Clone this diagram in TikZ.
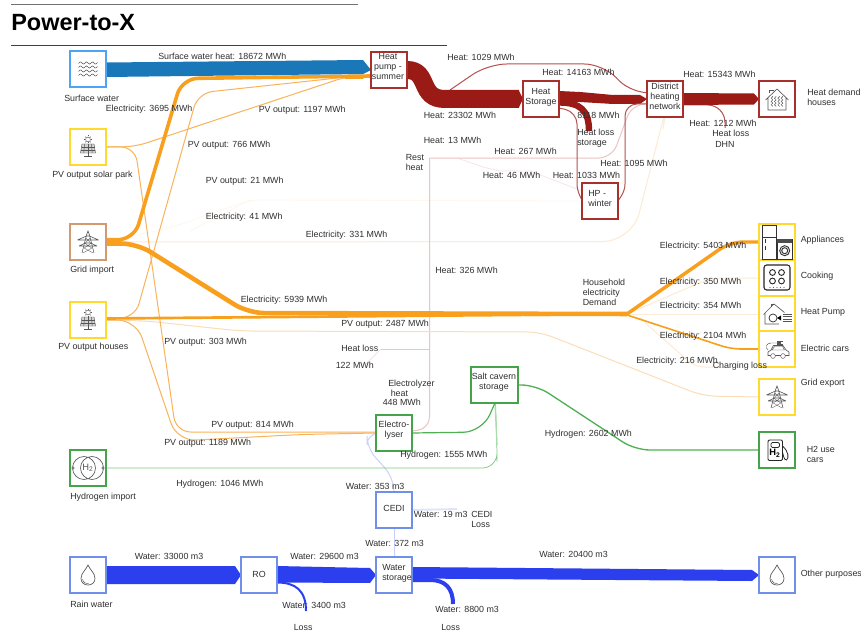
\documentclass[tikz,border=0pt]{standalone}
\usepackage{fontspec}
\setmainfont{Liberation Sans}
\usetikzlibrary{calc}
\definecolor{txt}{HTML}{303030}
\definecolor{wblue}{HTML}{2B3FEE}
\definecolor{sblue}{HTML}{1A78B8}
\definecolor{hred}{HTML}{9A1A16}
\definecolor{mred}{HTML}{B5524F}
\definecolor{pinkf}{HTML}{EBC4C3}
\definecolor{paler}{HTML}{F6E4E3}
\definecolor{orng}{HTML}{F8A01E}
\definecolor{orngb}{HTML}{F9B35A}
\definecolor{orngc}{HTML}{FCDDB6}
\definecolor{orngd}{HTML}{FDEBD5}
\definecolor{orngf}{HTML}{FFF6EC}
\definecolor{gr}{HTML}{4FB153}
\definecolor{grb}{HTML}{7CCB7F}
\definecolor{grc}{HTML}{A9DBAB}
\definecolor{wpale}{HTML}{C9D1F8}
\definecolor{wpaler}{HTML}{E0E4FB}
\definecolor{bxblue}{HTML}{6F8FEA}
\definecolor{bxsky}{HTML}{4DA3F5}
\definecolor{bxyel}{HTML}{FFD92E}
\definecolor{bxtan}{HTML}{D29A6E}
\definecolor{bxred}{HTML}{A8302C}
\definecolor{bxgrn}{HTML}{45A34A}
\definecolor{ic}{HTML}{555555}
\newcommand\ys[1]{#1*-0.75pt}
\tikzset{
 x=0.75pt,y=-0.75pt,
 lab/.style={inner sep=0pt,anchor=west,text=txt,align=left,font=\fontsize{6.65}{7.5}\selectfont},
 clab/.style={inner sep=0pt,anchor=center,text=txt,align=center,font=\fontsize{6.65}{7.5}\selectfont},
 bx/.style={minimum width=27pt,minimum height=27pt,inner sep=0pt,outer sep=0pt},
 iconline/.style={draw=ic,line width=0.35pt},
 thin1/.style={line width=0.75pt},
 thin2/.style={line width=0.55pt},
 wavesicon/.pic={
  \foreach \yy in {-6,-2,2,6}{
   \draw[iconline,line width=.45pt] plot[domain=-9.5:9.5,samples=30,smooth] (\x,{\yy+1*sin(\x*60)});
  }},
 sunicon/.pic={
  \draw[iconline] (0,-7.5) circle (2.4);
  \foreach \a in {0,45,...,315}{\draw[iconline] ($(0,-7.5)+(\a:3)$) -- ($(0,-7.5)+(\a:4)$);}
  \draw[iconline,fill=ic!25] (-6,-3) -- (6,-3) -- (7.5,6) -- (-7.5,6) -- cycle;
  \foreach \k in {-3.5,0,3.5}{\draw[iconline] (\k,-3) -- (\k*1.2,6);}
  \draw[iconline] (-6.5,0) -- (6.5,0) (-7,3) -- (7,3);
  \draw[iconline] (0,6) -- (0,9) (-4,9) -- (4,9);},
 pylonicon/.pic={
  \draw[iconline,line width=.45pt] (-6,11) -- (-1.5,-7) -- (0,-11) -- (1.5,-7) -- (6,11);
  \draw[iconline,line width=.45pt] (-10.5,-2) -- (-1.5,-6) -- (1.5,-6) -- (10.5,-2) (-10.5,-2) -- (10.5,-2);
  \draw[iconline,line width=.45pt] (-9,4) -- (-2.5,1) -- (2.5,1) -- (9,4) (-9,4) -- (9,4);
  \draw[iconline,line width=.25pt] (-3.5,1) -- (3.8,6) -- (-5,11) (3.5,1) -- (-3.8,6) -- (5,11) (-2,-4) -- (2.6,1) (2,-4) -- (-2.6,1);},
 hydroicon/.pic={
  \draw[iconline,line width=.5pt] (-4,0) circle (11.5) (4,0) circle (11.5);
  \draw[iconline,fill=white] (-15,0) circle (1.2) (15,0) circle (1.2);
  \node[inner sep=0pt,text=ic,font=\fontsize{7}{8}\selectfont] (h2txt) at (0,0) {H\textsubscript{2}};},
 dropicon/.pic={
  \draw[iconline,line width=.5pt] (0,-10) .. controls (2,-5) and (7,-2) .. (7,3.5) .. controls (7,7.5) and (4,10) .. (0,10) .. controls (-4,10) and (-7,7.5) .. (-7,3.5) .. controls (-7,-2) and (-2,-5) .. cycle;
  \draw[iconline] (-5.5,4) .. controls (-5,7.5) and (-2,9) .. (1,9);},
 houseicon/.pic={
  \draw[iconline,line width=.5pt] (-11.5,1) -- (0,-10) -- (11.5,1) (-9,-1) -- (-9,11) -- (9,11) -- (9,-1);
  \draw[iconline] (-7.5,-5.5) -- (-7.5,-9) -- (-4,-9) -- (-4,-7.5);
  \foreach \k in {-5,-1.7,1.7,5}{\draw[iconline] plot[domain=-3:7.5,samples=14,smooth] ({\k+.9*sin(\x*110)},\x);}},
 appicon/.pic={
  \draw[draw=black!80,line width=.6pt] (-15,-17) rectangle (-1,17) (-15,-5) -- (-1,-5);
  \draw[draw=black!80,line width=.7pt] (-11.5,-3) -- (-11.5,1) (-11.5,4) -- (-11.5,8);
  \draw[draw=black!80,line width=.6pt] (0,-3) rectangle (15,17);
  \fill[black!70] (0,-3) rectangle (15,1);
  \draw[draw=black!80,line width=.7pt] (7.7,8.7) circle (5) (7.7,8.7) circle (3);},
 cookicon/.pic={
  \draw[draw=black!85,line width=.8pt,rounded corners=2pt] (-13,-13) rectangle (13,12);
  \foreach \a in {-4.5,4.5}{\foreach \b in {-5.5,3}{\draw[draw=black!85,line width=.7pt] (\a,\b) circle (2.9);}}
  \foreach \a in {-7,-3.5,0,3.5,7}{\fill[black!60] (\a,9.5) circle (.6);}},
 hpicon/.pic={
  \draw[iconline,line width=.5pt] (-13.5,0.5) -- (-3,-10) -- (7.5,-1.5) (-12,-1) -- (-12,10) -- (2,10);
  \draw[iconline] (-6,-7.5) -- (-6,-10) -- (-3.5,-10);
  \draw[draw=black!80,line width=.55pt] (-4,4) circle (4);
  \fill[black] (0,4) -- (4,1.5) -- (4,6.5) -- cycle;
  \foreach \k in {0,2.5,5,7.5}{\draw[iconline] (5.5,\k) -- (15,\k);}},
 caricon/.pic={
  \draw[iconline,line width=.5pt] (-9,6.5) -- (-9,3) -- (-6,1) -- (-3.5,-3.5) -- (6,-3.5) -- (9,1) -- (12,3) -- (12,6.5) -- cycle;
  \draw[iconline] (-5,1) -- (-2.5,-2.5) -- (5.5,-2.5) -- (7.5,1) -- cycle;
  \draw[iconline,fill=white] (-4,7) circle (2.4) (6,7) circle (2.4);
  \draw[iconline] (-9,1) .. controls (-12,-1) and (-11,-6) .. (-6,-6) -- (0,-6);
  \fill[ic] (0,-8) rectangle (3.5,-4);
  \draw[iconline] (3.5,-7.5) -- (5.5,-7.5) (3.5,-4.5) -- (5.5,-4.5);},
 pumpicon/.pic={
  \draw[draw=black!85,line width=.7pt,rounded corners=1pt] (-9,-10) rectangle (5.5,10.5);
  \draw[draw=black!85,line width=.6pt,rounded corners=1pt] (-6,-7.5) rectangle (2.5,-2.5);
  \draw[draw=black!85,line width=.6pt] (5.5,-4) .. controls (12,2) and (12,8) .. (9.5,10) .. controls (7,10) and (6.5,6) .. (5.5,2);
  \node[inner sep=0pt,text=black,font=\bfseries\fontsize{7}{8}\selectfont] (h2pump) at (-2,3.5) {H\textsubscript{2}};},
}
\begin{document}
\begin{tikzpicture}
\useasboundingbox (0,0) rectangle (861,635);
\fill[white] (0,0) rectangle (861,635);
\draw[line width=.7pt,draw=black!55] (11,4) -- (358,4);
\draw[line width=.7pt,draw=black!75] (11,45.5) -- (447,45.5);
\node[inner sep=0pt,anchor=west,font=\bfseries\fontsize{17.6}{20}\selectfont] (title) at (11,23) {Power-to-X};

% ---- boxes (placed first, outlined last)
\node[bx] (sw) at (88,69) {};
\node[bx] (solar) at (88,147) {};
\node[bx] (grid) at (88,242) {};
\node[bx] (pvh) at (88,320) {};
\node[bx] (himp) at (88,468) {};
\node[bx] (rain) at (88,575) {};
\node[bx] (hps) at (389,70) {};
\node[bx] (hst) at (541,99) {};
\node[bx] (dhn) at (665,99) {};
\node[bx] (hdh) at (777,99) {};
\node[bx] (hpw) at (600,201) {};
\node[bx] (app) at (777,242) {};
\node[bx] (cook) at (777,278) {};
\node[bx] (hpu) at (777,314) {};
\node[bx] (ecar) at (777,349) {};
\node[bx] (gexp) at (777,397) {};
\node[bx] (h2c) at (777,450) {};
\node[bx] (ely) at (394,433) {};
\node[bx,minimum width=35.25pt] (salt) at (494.5,385) {};
\node[bx] (cedi) at (394,510) {};
\node[bx] (wst) at (394,575) {};
\node[bx] (ro) at (259,575) {};
\node[bx] (oth) at (777,575) {};

% ---- free ends
\coordinate (hub) at (627,314);
\coordinate (restc) at (429.5,158);
\coordinate (hl1) at (725,128);
\coordinate (hl2) at (306,611);
\coordinate (hl3) at (453,604);
\coordinate (hl4) at (589,131);
\coordinate (cedil) at (457,509);
\coordinate (chl) at (727,367);
\coordinate (elyhl) at (381,349);

% ---- faint flows
\draw[orngf,thin2,rounded corners=8pt] ([yshift=\ys{0}]grid.east) -- (173,227) -- (250,200) -- (hpw.west);
\draw[orngf,thin2] (190,231) -- (250,200);
\draw[paler,thin2] (457,158) -- (483,167) -- (500,171) -- (530,171) -- ([yshift=\ys{-10}]hpw.west);
\draw[orngd,thin1,rounded corners=22pt] (grid.east) -- (632,241.5) -- (668,100) -- (dhn.south);
\draw[pinkf,thin1,rounded corners=10pt] (restc) -- (612,158) -- (632,104) -- ([yshift=\ys{5}]dhn.west);
\draw[pinkf,thin1,rounded corners=9pt] ([yshift=\ys{-2}]ely.east) -- (429.5,429) -- (restc);
\draw[pinkf,thin2] (elyhl) -- (429.5,349);
\draw[paler,thin2] (elyhl) -- (365,365);
\draw[orngc,thin1,rounded corners=10pt] ([yshift=\ys{0}]pvh.east) -- (147,321) -- (240,331) -- (540,332) -- (703,396) -- (gexp.west);
% water thin
\draw[wpale,thin1] (cedi.south) -- (wst.north);
\draw[wpale,thin1,rounded corners=9pt] (cedi.north) -- (393,477) -- (367,448) -- (367,433) -- ([yshift=\ys{0}]ely.west);
\draw[wpaler,line width=1.4pt] ([yshift=\ys{0}]cedi.east) -- (cedil);
% household faint
\draw[orngd,thin1,rounded corners=8pt] (hub) -- (711,278) -- (cook.west);
\draw[orngd,thin1] (hub) -- (hpu.west);
\draw[orngd,thin1,rounded corners=7pt] (640,318) -- (695,367) -- (chl);

% ---- orange
\draw[orngb,thin1,rounded corners=9pt] (solar.east) -- (135,146.7) -- (347,76.5) -- ([yshift=\ys{6}]hps.west);
\draw[orngb,thin1,rounded corners=11pt] ([yshift=\ys{-2}]pvh.east) -- (135,318) -- (198,93) -- (347,77) -- ([yshift=\ys{6}]hps.west);
\draw[orngb,thin1,rounded corners=11pt] (solar.east) -- (135,146.7) -- (176,432) -- ([yshift=\ys{-1}]ely.west);
\draw[orngb,thin1,rounded corners=14pt] ([yshift=\ys{0}]pvh.east) -- (136,320) -- (177,441) -- (300,434.5) -- (ely.west);
\draw[orng,line width=2.7pt,rounded corners=12pt] ([yshift=\ys{-2.3}]grid.east) -- (134,239.7) -- (182,78.5) -- ([yshift=\ys{6}]hps.west);
\fill[orng] (345,77.2) -- (367,74.5) -- (363,79) -- (345,79) -- cycle;
\draw[orng,line width=3.4pt,rounded corners=12pt] ([yshift=\ys{1.5}]grid.east) -- (137,243.5) -- (248,313) -- (hub);
\draw[orng,line width=2pt] ([yshift=\ys{-1.5}]pvh.east) -- (hub);
\draw[orng,line width=2.6pt,rounded corners=10pt] (hub) -- (730,242) -- (app.west);
\draw[orng,line width=1.2pt,rounded corners=7pt] ([yshift=\ys{1}]hub) -- (731,349) -- (ecar.west);

% ---- green
\draw[grb,thin2,rounded corners=11pt] (himp.east) -- (497,468) -- (497,447) -- (495.5,403);
\draw[grc,line width=.9pt,rounded corners=4pt] (495,403) -- (497,445);
\draw[gr,line width=.9pt,rounded corners=14pt] (ely.east) -- (482,432) -- (495,403);
\draw[gr,line width=1pt,rounded corners=11pt] (salt.east) -- (536,385) -- (635,450) -- (h2c.west);

% ---- reds
\draw[mred,thin1,rounded corners=14pt] (450,90) -- (488,64) -- (603,64) -- (632,94) -- ([yshift=\ys{-6}]dhn.west);
\fill[hred] ([yshift=\ys{-8}]hst.east) -- (580,92) -- (613,95) -- (640,95) -- (dhn.west) -- (640,104) -- (613,104) -- (580,102) -- ([yshift=\ys{3}]hst.east) -- cycle;
\draw[mred,thin1,rounded corners=9pt] ([yshift=\ys{9}]hst.east) -- (577,112) -- (577,196) -- (hpw.west);
\draw[mred,thin1,rounded corners=9pt] (hpw.east) -- (625,196) -- (625,104) -- ([yshift=\ys{5}]dhn.west);
\draw[hred,line width=4.8pt] ([yshift=\ys{3.5}]hst.east) .. controls (580,102.5) and (589,110) .. (hl4);
\draw[mred,thin1,rounded corners=13pt] ([yshift=\ys{6}]dhn.east) -- (725,105) -- (hl1);
\fill[hred] ([yshift=\ys{-6}]dhn.east) -- (754,93.5) -- (hdh.west) -- (754,104.5) -- ([yshift=\ys{6}]dhn.east) -- cycle;
\draw[hred,line width=13.5pt] (hps.east) .. controls (430,70) and (418,99) .. (445,99) -- (519,99);
\fill[hred] (518.5,90) -- (hst.west) -- (518.5,108) -- cycle;
\fill[sblue] ([yshift=\ys{-6.5}]sw.east) -- (363,60) -- (hps.west) -- (363,74) -- ([yshift=\ys{8}]sw.east) -- cycle;

% ---- water
\fill[wblue] ([yshift=\ys{-9}]rain.east) -- (235,566) -- (ro.west) -- (235,584) -- ([yshift=\ys{9}]rain.east) -- cycle;
\fill[wblue] ([yshift=\ys{-9}]ro.east) -- (370,568) -- (wst.west) -- (370,583) -- ([yshift=\ys{7.5}]ro.east) -- cycle;
\draw[wblue,line width=1.5pt] ([yshift=\ys{7.5}]ro.east) .. controls (295,582.5) and (306,590) .. (hl2);
\fill[wblue] ([yshift=\ys{-8}]wst.east) -- (752,570) -- (oth.west) -- (752,581) -- ([yshift=\ys{3.5}]wst.east) -- cycle;
\draw[wblue,line width=3pt] ([yshift=\ys{5}]wst.east) -- (430,580) .. controls (445,580) and (453,588) .. (hl3);

% ---- box outlines over the flows
\foreach \n/\col in {hps/bxred,hst/bxred,dhn/bxred,hdh/bxred,hpw/bxred,ely/bxgrn,salt/bxgrn,cedi/bxblue,wst/bxblue,ro/bxblue,oth/bxblue,rain/bxblue,sw/bxsky,solar/bxyel,grid/bxtan,pvh/bxyel,himp/bxgrn,app/bxyel,cook/bxyel,hpu/bxyel,ecar/bxyel,gexp/bxyel,h2c/bxgrn}{
 \draw[draw=\col,fill=white,line width=1.05pt] (\n.north west) rectangle (\n.south east);
}

% ---- icons
\pic at (sw) {wavesicon};
\pic at (solar) {sunicon};
\pic at (grid) {pylonicon};
\pic at (pvh) {sunicon};
\pic at (himp) {hydroicon};
\pic at (rain) {dropicon};
\pic at (hdh) {houseicon};
\pic at (app) {appicon};
\pic at (cook) {cookicon};
\pic at (hpu) {hpicon};
\pic at (ecar) {caricon};
\pic at (gexp) {pylonicon};
\pic at (h2c) {pumpicon};
\pic at (oth) {dropicon};

% ---- box texts
\node[clab] (x1) at (388,66) {Heat\\pump -\\summer};
\node[clab] (x2) at (541,97) {Heat\\Storage};
\node[clab] (x3) at (665,96) {District\\heating\\network};
\node[lab] (x4) at (588,198) {HP -\\winter};
\node[clab] (x5) at (394,430.5) {Electro-\\lyser};
\node[clab] (x6) at (494,382.5) {Salt cavern\\storage};
\node[clab] (x7) at (394,508.5) {CEDI};
\node[lab] (x8) at (382,573) {Water\\storage};
\node[clab] (x9) at (259,574) {RO};

% ---- labels
\node[lab] (t01) at (158,56) {Surface water heat: 18672 MWh};
\node[lab] (t02) at (64,98) {Surface water};
\node[lab] (t03) at (105.5,109) {Electricity: 3695 MWh};
\node[lab] (t04) at (258.5,110) {PV output: 1197 MWh};
\node[lab] (t05) at (52,175.5) {PV output solar park};
\node[lab] (t06) at (187.5,145.5) {PV output: 766 MWh};
\node[lab] (t07) at (205.5,181) {PV output: 21 MWh};
\node[lab] (t08) at (205.5,217) {Electricity: 41 MWh};
\node[lab] (t09) at (305.5,235) {Electricity: 331 MWh};
\node[lab] (t10) at (70,270.5) {Grid import};
\node[lab] (t11) at (240.5,300) {Electricity: 5939 MWh};
\node[lab] (t12) at (58,347.7) {PV output houses};
\node[lab] (t13) at (164,342) {PV output: 303 MWh};
\node[lab] (t14) at (211,425) {PV output: 814 MWh};
\node[lab] (t15) at (164,443) {PV output: 1189 MWh};
\node[lab] (t16) at (70,497) {Hydrogen import};
\node[lab] (t17) at (176,484.5) {Hydrogen: 1046 MWh};
\node[lab] (t18) at (447,57) {Heat: 1029 MWh};
\node[lab] (t19) at (542,72) {Heat: 14163 MWh};
\node[lab] (t20) at (683,74) {Heat: 15343 MWh};
\node[lab] (t21) at (807,97) {Heat demand\\houses};
\node[lab] (t22) at (423.5,115.5) {Heat: 23302 MWh};
\node[lab] (t23) at (577,115) {8118 MWh};
\node[lab] (t24) at (689,123) {Heat: 1212 MWh};
\node[lab] (t25) at (577,138.7) {Heat loss\\storage};
\node[lab] (t26) at (712,133.7) {Heat loss};
\node[lab] (t27) at (715,144) {DHN};
\node[lab] (t28) at (423.5,140) {Heat: 13 MWh};
\node[lab] (t29) at (494,151) {Heat: 267 MWh};
\node[lab] (t30) at (405.5,162.5) {Rest\\heat};
\node[lab] (t31) at (600,163.5) {Heat: 1095 MWh};
\node[lab] (t32) at (482.5,175) {Heat: 46 MWh};
\node[lab] (t33) at (552.5,175.5) {Heat: 1033 MWh};
\node[lab] (t34) at (435,270.5) {Heat: 326 MWh};
\node[lab] (t35) at (659.5,246.5) {Electricity: 5403 MWh};
\node[lab] (t36) at (659.5,282.5) {Electricity: 350 MWh};
\node[lab] (t37) at (659.5,306) {Electricity: 354 MWh};
\node[lab] (t38) at (659.5,336) {Electricity: 2104 MWh};
\node[lab] (t39) at (636,361.5) {Electricity: 216 MWh};
\node[lab] (t40) at (712.5,366) {Charging loss};
\node[lab] (t41) at (582.5,292.5) {Household\\electricity\\Demand};
\node[lab] (t42) at (800.5,240.5) {Appliances};
\node[lab] (t43) at (800.5,276.5) {Cooking};
\node[lab] (t44) at (800.5,312.5) {Heat Pump};
\node[lab] (t45) at (800.5,348) {Electric cars};
\node[lab] (t46) at (800.5,383.5) {Grid export};
\node[lab] (t47) at (806.5,454) {H2 use\\cars};
\node[lab] (t48) at (341,324) {PV output: 2487 MWh};
\node[lab] (t49) at (341,348) {Heat loss};
\node[lab] (t50) at (335.5,365.5) {122 MWh};
\node[lab] (t51) at (388,384) {Electrolyzer};
\node[lab] (t52) at (390.5,393.5) {heat};
\node[lab] (t53) at (382.5,402) {448 MWh};
\node[lab] (t54) at (544.5,434.5) {Hydrogen: 2602 MWh};
\node[lab] (t55) at (400,455) {Hydrogen: 1555 MWh};
\node[lab] (t56) at (345.5,486) {Water: 353 m3};
\node[lab] (t57) at (413.5,514) {Water: 19 m3};
\node[lab] (t58) at (471,519.5) {CEDI\\Loss};
\node[lab] (t59) at (365,543) {Water: 372 m3};
\node[lab] (t60) at (134.5,556) {Water: 33000 m3};
\node[lab] (t61) at (290,556) {Water: 29600 m3};
\node[lab] (t62) at (539,554.5) {Water: 20400 m3};
\node[lab] (t63) at (70,604) {Rain water};
\node[lab] (t64) at (282,605) {Water: 3400 m3};
\node[lab] (t65) at (435,609.5) {Water: 8800 m3};
\node[lab] (t66) at (293.5,627.5) {Loss};
\node[lab] (t67) at (441,627.5) {Loss};
\node[lab] (t68) at (800.5,574) {Other purposes};
\end{tikzpicture}
\end{document}
